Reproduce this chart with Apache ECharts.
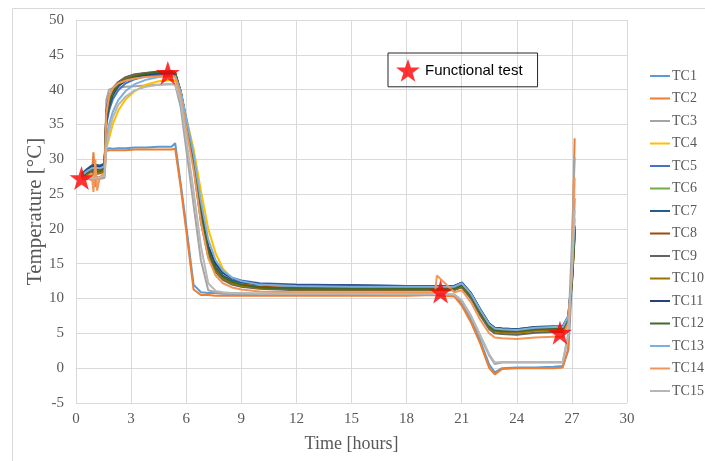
<!DOCTYPE html>
<html><head><meta charset="utf-8">
<script src="https://cdn.jsdelivr.net/npm/echarts@6/dist/echarts.min.js"></script>
<style>html,body{margin:0;padding:0;background:#fff}#c{width:705px;height:461px}</style>
</head><body><div id="c"></div>
<script>
var time = [0.3,0.6,0.85,0.95,1.05,1.15,1.3,1.55,1.65,1.8,2.0,2.3,2.7,3.2,3.8,4.5,5.2,5.4,5.7,6.0,6.4,6.8,7.2,7.6,8.0,8.5,9.0,10,12,15,18,19.55,19.65,20.6,21.0,21.5,22.0,22.5,22.8,23.2,24,25,26,26.5,26.8,27.0,27.15];
var TC1  = [27.6,28.3,28.8,29.0,28.9,28.7,28.9,29.2,31.4,31.6,31.5,31.6,31.6,31.7,31.7,31.8,31.8,32.3,26.5,20.5,12.0,10.9,10.8,10.8,10.7,10.7,10.7,10.7,10.7,10.6,10.6,10.6,10.6,10.5,9.4,7.0,4.0,0.5,-0.6,0.0,0.1,0.1,0.2,0.3,2.5,12.0,24.4];
var TC2  = [27.2,27.3,27.0,31.0,26.0,27.5,27.3,27.5,31.2,31.3,31.3,31.3,31.3,31.4,31.4,31.4,31.4,31.5,26.0,19.8,11.3,10.5,10.5,10.4,10.4,10.4,10.4,10.4,10.4,10.4,10.4,10.5,10.5,10.3,9.0,6.6,3.6,0.0,-0.9,-0.1,0.0,0.0,0.0,0.1,2.8,15.0,33.0];
var TC3  = [27.2,27.2,27.2,27.2,27.2,27.2,27.2,27.3,38.5,40.0,40.2,40.3,40.4,40.5,40.6,40.7,40.8,40.7,37.5,31.5,23.5,15.5,11.2,10.9,10.8,10.8,10.7,10.7,10.7,10.6,10.6,10.6,10.6,10.5,9.6,7.4,4.6,1.8,0.6,0.8,0.8,0.8,0.8,0.8,5.0,18.0,30.3];
var TC4  = [27.5,28.0,28.4,28.5,28.5,28.4,28.5,28.7,31.5,33.0,35.0,37.0,38.6,39.8,40.7,41.2,41.4,41.3,39.5,36.0,31.5,25.5,20.0,16.5,14.3,12.9,12.3,11.7,11.4,11.3,11.3,11.3,11.3,11.3,11.7,10.3,8.0,6.0,5.3,5.1,5.0,5.2,5.3,5.4,7.0,12.0,18.8];
var TC5  = [27.8,28.5,29.0,29.2,29.1,28.9,29.0,29.3,35.0,37.0,38.6,39.9,40.9,41.5,41.9,42.1,42.2,42.1,39.5,35.5,30.0,23.0,17.5,15.0,13.8,13.0,12.6,12.2,12.0,11.9,11.8,11.8,11.8,11.8,12.3,10.8,8.5,6.4,5.8,5.7,5.6,5.9,6.0,6.0,7.5,13.0,20.5];
var TC6  = [27.6,28.0,28.3,28.4,28.3,28.2,28.3,28.6,36.0,38.0,39.5,40.6,41.3,41.8,42.2,42.4,42.5,42.3,39.8,35.8,30.0,22.5,17.0,14.5,13.2,12.4,12.0,11.6,11.4,11.3,11.3,11.3,11.3,11.4,11.9,10.4,8.0,6.0,5.4,5.3,5.2,5.5,5.6,5.6,7.0,12.5,19.5];
var TC7  = [27.9,28.6,29.1,29.3,29.2,29.0,29.1,29.4,36.5,38.5,39.8,40.9,41.6,42.0,42.3,42.5,42.6,42.4,39.8,35.6,29.8,22.0,16.8,14.5,13.3,12.6,12.3,12.0,11.8,11.7,11.7,11.7,11.7,11.7,12.2,10.7,8.4,6.3,5.7,5.6,5.5,5.8,5.9,5.9,7.2,12.8,20.0];
var TC8  = [27.5,27.9,28.2,28.3,28.2,28.1,28.2,28.5,36.8,38.8,40.0,41.0,41.7,42.1,42.4,42.6,42.6,42.4,39.6,35.2,29.5,21.5,16.5,14.2,13.0,12.3,12.0,11.7,11.5,11.5,11.5,11.5,11.5,11.5,12.0,10.5,8.1,6.1,5.5,5.4,5.3,5.6,5.7,5.7,7.0,12.5,19.8];
var TC9  = [27.4,27.8,28.0,28.1,28.0,28.0,28.0,28.3,37.0,39.0,40.2,41.1,41.8,42.2,42.4,42.5,42.5,42.3,39.3,34.8,29.0,21.0,16.0,13.8,12.7,12.0,11.7,11.4,11.2,11.2,11.2,11.2,11.2,11.2,11.6,10.0,7.6,5.6,5.0,4.9,4.8,5.1,5.2,5.2,6.8,12.0,19.0];
var TC10 = [27.4,27.7,27.9,28.0,27.9,27.9,28.0,28.2,36.2,38.2,39.7,40.8,41.5,42.0,42.3,42.4,42.5,42.3,39.6,35.4,29.6,22.0,16.5,14.0,12.9,12.2,11.8,11.5,11.3,11.3,11.3,11.3,11.3,11.3,11.8,10.3,7.9,5.9,5.3,5.2,5.1,5.4,5.5,5.5,6.9,12.2,19.2];
var TC11 = [27.8,28.4,28.9,29.1,29.0,28.8,28.9,29.2,35.5,37.6,39.2,40.5,41.3,41.8,42.1,42.3,42.4,42.2,39.7,35.6,30.2,23.0,17.5,15.0,13.7,12.9,12.5,12.1,11.9,11.9,11.8,11.8,11.8,11.8,12.3,10.8,8.5,6.4,5.8,5.7,5.6,5.9,6.0,6.0,7.4,13.0,20.3];
var TC12 = [27.6,28.1,28.5,28.6,28.5,28.4,28.5,28.7,36.0,38.0,39.5,40.7,41.4,41.9,42.3,42.5,42.6,42.4,39.7,35.5,29.7,22.3,16.8,14.3,13.1,12.4,12.0,11.6,11.4,11.4,11.4,11.4,11.4,11.4,11.9,10.4,8.0,6.0,5.4,5.3,5.3,5.6,5.7,5.7,7.0,12.4,19.6];
var TC13 = [27.7,28.3,28.7,28.9,28.8,28.6,28.7,29.0,33.0,35.0,36.8,38.5,39.8,40.8,41.4,41.8,42.0,41.9,39.8,36.0,30.8,24.0,18.5,15.5,14.0,13.0,12.5,12.0,11.8,11.7,11.7,11.7,11.7,11.7,12.2,10.7,8.4,6.3,5.7,5.6,5.5,5.8,5.9,5.9,7.5,13.5,21.5];
var TC14 = [27.3,27.5,28.0,25.3,30.0,25.5,27.5,28.0,36.5,39.0,40.2,40.9,41.3,41.6,41.8,41.9,42.0,41.8,39.0,34.5,28.5,21.0,15.8,13.3,12.2,11.6,11.3,11.0,10.9,10.9,10.9,10.9,13.3,10.9,11.2,9.5,7.0,5.0,4.4,4.3,4.2,4.4,4.5,4.5,6.5,14.0,27.3];
var TC15 = [27.3,27.3,27.3,27.3,27.3,27.3,27.4,27.6,31.5,34.0,36.0,37.8,39.0,39.9,40.4,40.7,40.8,40.7,38.5,33.0,25.5,17.5,12.2,11.1,10.9,10.8,10.8,10.7,10.7,10.7,10.6,10.6,10.6,10.6,9.8,7.6,4.8,2.0,0.8,0.9,0.9,0.9,0.9,0.9,4.5,14.0,22.7];
var seriesNames = ['TC1','TC2','TC3','TC4','TC5','TC6','TC7','TC8','TC9','TC10','TC11','TC12','TC13','TC14','TC15'];
var seriesValues = [TC1,TC2,TC3,TC4,TC5,TC6,TC7,TC8,TC9,TC10,TC11,TC12,TC13,TC14,TC15];
var testTime = [0.3, 5.0, 19.85, 26.35];
var testTemp = [27.3, 42.4, 11.0, 5.1];
var xTicks = {min: 0, max: 30, step: 3};
var yTicks = {min: -5, max: 50, step: 5};

var colors = ['#5B9BD5','#ED7D31','#A5A5A5','#FFC000','#4472C4','#70AD47','#255E91','#9E480E','#636363','#997300','#264478','#43682B','#7CAFDD','#F1975A','#B7B7B7'];
var starPath = 'path://M12,0 L14.9,8.6 L24,8.6 L16.6,14 L19.4,22.8 L12,17.4 L4.6,22.8 L7.4,14 L0,8.6 L9.1,8.6 Z';
var serif = 'Liberation Serif';

var series = seriesNames.map(function(n, i){
  return {
    name: n, type: 'line', showSymbol: false, symbol: 'none',
    data: time.map(function(t, k){ return [t, seriesValues[i][k]]; }),
    lineStyle: {width: 2, color: colors[i]}, itemStyle: {color: colors[i]},
    z: 2
  };
});
series.push({
  name: 'Functional test', type: 'scatter', symbol: starPath, symbolSize: 24,
  itemStyle: {color: '#FF0000'},
  data: testTime.map(function(t, k){ return [t, testTemp[k]]; }), z: 5
});

var chart = echarts.init(document.getElementById('c'), null, {renderer: 'canvas'});
chart.setOption({
  animation: false,
  color: colors,
  grid: {left: 76, right: 78, top: 20, bottom: 58, containLabel: false},
  xAxis: {
    type: 'value', min: xTicks.min, max: xTicks.max, interval: xTicks.step,
    name: 'Time [hours]', nameLocation: 'middle', nameGap: 32,
    nameTextStyle: {fontFamily: serif, fontSize: 18, color: '#595959'},
    axisLine: {show: true, lineStyle: {color: '#D9D9D9'}},
    axisTick: {show: false},
    axisLabel: {fontFamily: serif, fontSize: 15, color: '#595959', margin: 9},
    splitLine: {show: true, lineStyle: {color: '#D9D9D9', width: 1}}
  },
  yAxis: {
    type: 'value', min: yTicks.min, max: yTicks.max, interval: yTicks.step,
    name: 'Temperature [°C]', nameLocation: 'middle', nameGap: 30, nameMoveOverlap: false,
    nameTextStyle: {fontFamily: serif, fontSize: 21, color: '#595959'},
    axisLine: {show: true, lineStyle: {color: '#D9D9D9'}},
    axisTick: {show: false},
    axisLabel: {fontFamily: serif, fontSize: 15, color: '#595959', margin: 12},
    splitLine: {show: true, lineStyle: {color: '#D9D9D9', width: 1}}
  },
  legend: [{
    data: seriesNames, orient: 'vertical', left: 650, top: 69,
    itemWidth: 20, itemHeight: 2, itemGap: 8.5, icon: 'rect',
    textStyle: {fontFamily: serif, fontSize: 14, color: '#595959', lineHeight: 14, padding: [0,0,0,-3]},
    padding: 0
  },{
    data: ['Functional test'], left: 388, top: 53,
    itemWidth: 24, itemHeight: 24,
    borderColor: '#262626', borderWidth: 1, padding: [6, 15, 5, 8],
    textStyle: {fontFamily: 'Liberation Sans', fontSize: 15, color: '#000'}
  }],
  graphic: [{
    type: 'rect', left: 10, top: 6, silent: true,
    shape: {width: 720, height: 454},
    style: {fill: 'none', stroke: '#D9D9D9', lineWidth: 1}
  }],
  series: series
});
</script></body></html>
